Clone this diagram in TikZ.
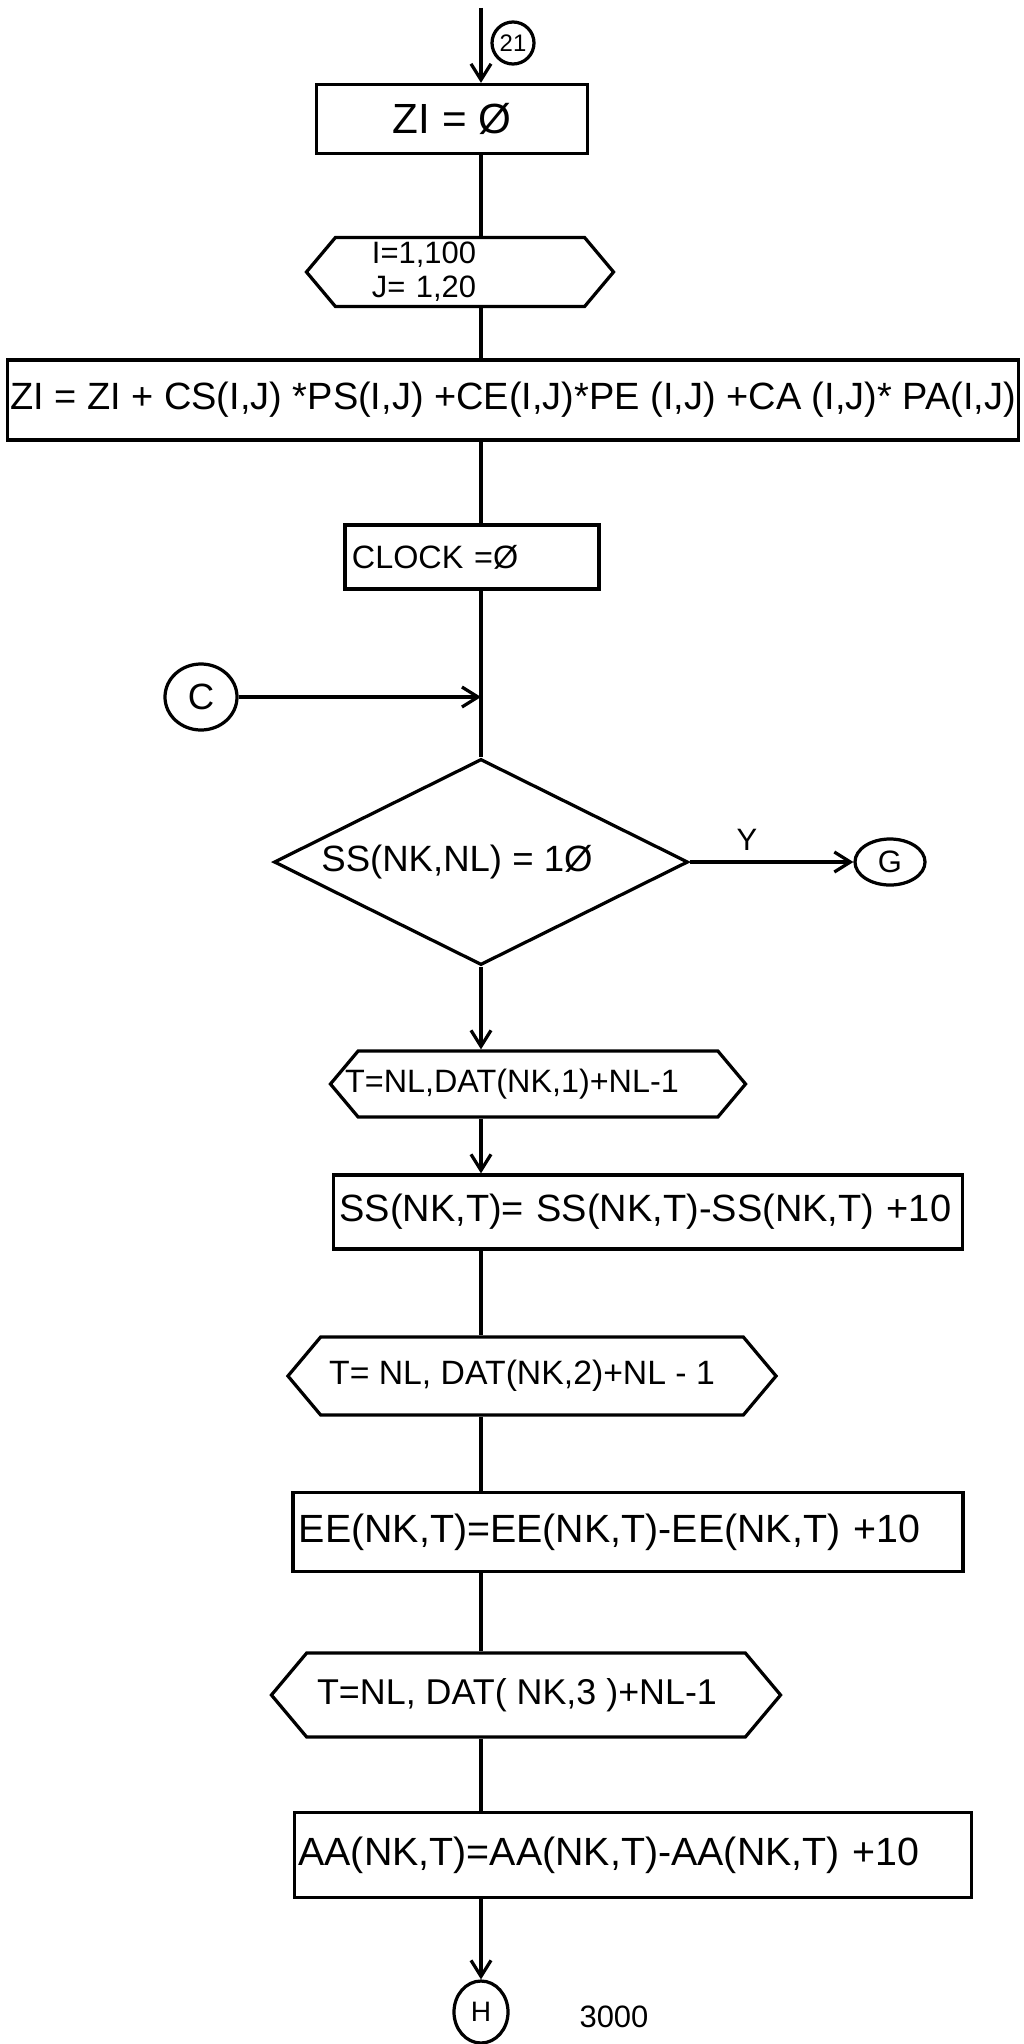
\documentclass[tikz,border=0pt]{standalone}
\usepackage{fontspec}
\setmainfont{Liberation Sans}
\usetikzlibrary{arrows.meta,shapes.geometric,shapes.symbols}
\begin{document}
\begin{tikzpicture}[x=0.025cm,y=-0.025cm,line width=2.3pt,
    >={Straight Barb[length=4mm,width=5mm]},
    box/.style={draw,rectangle,inner sep=0pt},
    loopbox/.style={draw,signal,signal to=west and east,signal pointer angle=100,inner sep=0pt},
    decision/.style={draw,diamond,inner sep=0pt},
    conn/.style={draw,ellipse,inner sep=0pt}]
\useasboundingbox (0,0) rectangle (1024,2044);
\coordinate (in) at (481,8);
\node[conn,minimum size=1.05cm,font=\fontsize{17pt}{17pt}\selectfont] (c21) at (513,43) {21};
\node[box,minimum width=6.775cm,minimum height=1.725cm,font=\fontsize{30pt}{30pt}\selectfont] (zi) at (452,119) {ZI = Ø};
\node[loopbox,minimum width=7.675cm,minimum height=1.725cm,text width=4.4cm,align=left,
    font=\fontsize{22pt}{24pt}\selectfont] (loopA) at (460,272) {I=1,100\\J= 1,20};
\node[box,minimum width=25.275cm,minimum height=2cm,font=\fontsize{27pt}{27pt}\selectfont] (calc) at (513,400)
    {ZI = ZI + CS(I,J) *PS(I,J) +CE(I,J)*PE (I,J) +CA (I,J)* PA(I,J)};
\node[box,minimum height=1.6cm,text width=6cm,inner xsep=0.175cm,align=left,
    font=\fontsize{23pt}{23pt}\selectfont] (clock) at (472,557) {CLOCK =Ø};
\node[conn,minimum width=1.8cm,minimum height=1.65cm,font=\fontsize{26pt}{26pt}\selectfont] (cC) at (201,697) {C};
\node[decision,minimum width=10.35cm,minimum height=5.15cm,font=\fontsize{26pt}{26pt}\selectfont] (dec) at (481,862)
    {\makebox[0pt]{SS(NK,NL) = 1Ø\hspace*{1.2cm}}};
\node[conn,minimum width=1.75cm,minimum height=1.15cm,font=\fontsize{22pt}{22pt}\selectfont] (cG) at (890,862) {G};
\node[loopbox,minimum width=10.375cm,minimum height=1.65cm,font=\fontsize{23pt}{23pt}\selectfont] (loopB) at (538,1084)
    {\makebox[0pt]{T=NL,DAT(NK,1)+NL-1\hspace*{1.3cm}}};
\node[box,minimum height=1.85cm,text width=15.425cm,inner xsep=0.15cm,align=left,
    font=\fontsize{27pt}{27pt}\selectfont] (ss) at (648,1212) {SS(NK,T)= SS(NK,T)-SS(NK,T) +10};
\node[loopbox,minimum width=12.2cm,minimum height=1.95cm,font=\fontsize{24pt}{24pt}\selectfont] (loopC) at (532,1376)
    {\makebox[0pt]{T= NL, DAT(NK,2)+NL - 1\hspace*{0.5cm}}};
\node[box,minimum height=1.975cm,text width=16.45cm,inner xsep=0.15cm,align=left,
    font=\fontsize{28pt}{28pt}\selectfont] (ee) at (628,1532) {EE(NK,T)=EE(NK,T)-EE(NK,T) +10};
\node[loopbox,minimum width=12.725cm,minimum height=2.1cm,font=\fontsize{25.5pt}{25.5pt}\selectfont] (loopD) at (526,1695)
    {\makebox[0pt]{T=NL, DAT( NK,3 )+NL-1\hspace*{0.45cm}}};
\node[box,minimum height=2.125cm,text width=16.725cm,inner xsep=0.1cm,align=left,
    font=\fontsize{28pt}{28pt}\selectfont] (aa) at (633,1855) {AA(NK,T)=AA(NK,T)-AA(NK,T) +10};
\node[conn,minimum width=1.35cm,minimum height=1.55cm,font=\fontsize{20pt}{20pt}\selectfont] (cH) at (481,2012) {H};
\node[font=\fontsize{22pt}{22pt}\selectfont] (n3000) at (614,2017) {3000};
\draw[->] (in) -- (in |- zi.north);
\draw (zi.south -| in) -- (loopA.north -| in);
\draw (loopA.south -| in) -- (calc.north -| in);
\draw (calc.south -| in) -- (clock.north -| in);
\draw (clock.south -| in) -- (dec.north);
\draw[->] (cC.east) -- (cC.east -| in);
\draw[->] (dec.east) -- node[above=4pt,pos=0.35,font=\fontsize{22pt}{22pt}\selectfont] (y) {Y} (cG.west);
\draw[->] (dec.south) -- (loopB.north -| in);
\draw[->] (loopB.south -| in) -- (ss.north -| in);
\draw (ss.south -| in) -- (loopC.north -| in);
\draw (loopC.south -| in) -- (ee.north -| in);
\draw (ee.south -| in) -- (loopD.north -| in);
\draw (loopD.south -| in) -- (aa.north -| in);
\draw[->] (aa.south -| in) -- (cH.north);
\end{tikzpicture}
\end{document}
